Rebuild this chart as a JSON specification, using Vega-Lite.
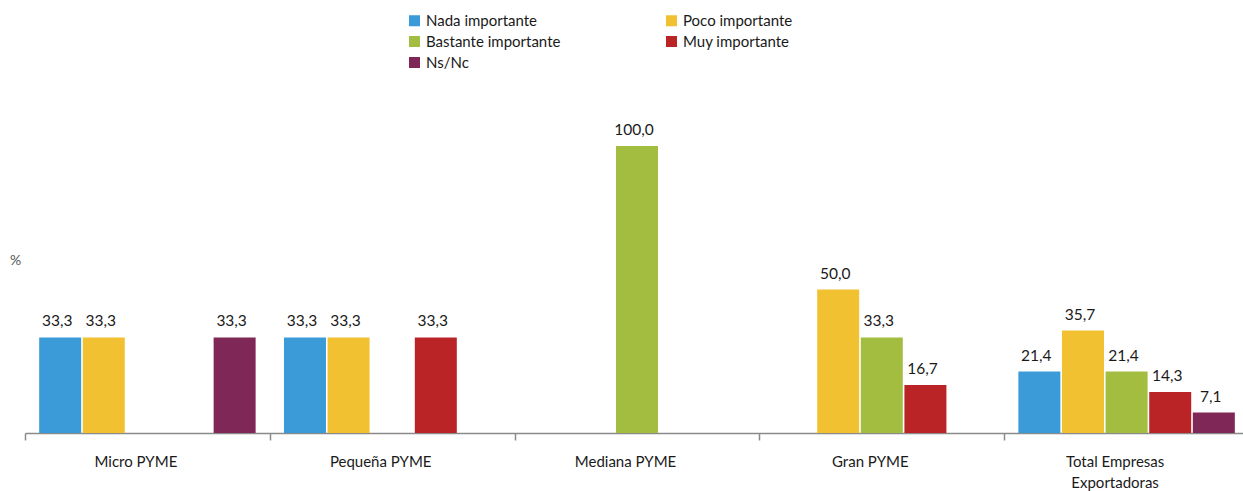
{
  "$schema": "https://vega.github.io/schema/vega-lite/v6.json",
  "autosize": {"type": "none"},
  "padding": {"left": 25, "top": 146, "right": 0, "bottom": 58},
  "width": 1224,
  "height": 287,
  "config": {
    "view": {"stroke": null},
    "font": "Lato",
    "locale": {"number": {"decimal": ",", "thousands": ".", "grouping": [3], "currency": ["", " €"]}}
  },
  "data": {
    "values": [
      {"grupo": "Micro PYME", "serie": "Nada importante", "valor": 33.3},
      {"grupo": "Micro PYME", "serie": "Poco importante", "valor": 33.3},
      {"grupo": "Micro PYME", "serie": "Ns/Nc", "valor": 33.3},
      {"grupo": "Pequeña PYME", "serie": "Nada importante", "valor": 33.3},
      {"grupo": "Pequeña PYME", "serie": "Poco importante", "valor": 33.3},
      {"grupo": "Pequeña PYME", "serie": "Muy importante", "valor": 33.3},
      {"grupo": "Mediana PYME", "serie": "Bastante importante", "valor": 100.0},
      {"grupo": "Gran PYME", "serie": "Poco importante", "valor": 50.0},
      {"grupo": "Gran PYME", "serie": "Bastante importante", "valor": 33.3},
      {"grupo": "Gran PYME", "serie": "Muy importante", "valor": 16.7},
      {"grupo": "Total Empresas Exportadoras", "serie": "Nada importante", "valor": 21.4},
      {"grupo": "Total Empresas Exportadoras", "serie": "Poco importante", "valor": 35.7},
      {"grupo": "Total Empresas Exportadoras", "serie": "Bastante importante", "valor": 21.4},
      {"grupo": "Total Empresas Exportadoras", "serie": "Muy importante", "valor": 14.3},
      {"grupo": "Total Empresas Exportadoras", "serie": "Ns/Nc", "valor": 7.1}
    ]
  },
  "encoding": {
    "x": {
      "field": "grupo",
      "type": "nominal",
      "sort": ["Micro PYME", "Pequeña PYME", "Mediana PYME", "Gran PYME", "Total Empresas Exportadoras"],
      "scale": {"paddingInner": 0, "paddingOuter": 0},
      "axis": {
        "title": null,
        "labelAngle": 0,
        "tickBand": "extent",
        "domainColor": "#8a8a8a",
        "domainWidth": 1.5,
        "tickColor": "#8a8a8a",
        "tickWidth": 1.5,
        "tickSize": 7,
        "labelPadding": 14,
        "labelOffset": -12,
        "labelFontSize": 15,
        "labelColor": "#1a1a1a",
        "labelLineHeight": 21,
        "labelBaseline": "top",
        "labelExpr": "datum.value == 'Total Empresas Exportadoras' ? ['Total Empresas', 'Exportadoras'] : datum.value"
      }
    },
    "xOffset": {
      "field": "serie",
      "type": "nominal",
      "scale": {
        "domain": ["Nada importante", "Poco importante", "Bastante importante", "Muy importante", "Ns/Nc"],
        "paddingInner": 0.037,
        "paddingOuter": 0.325
      }
    },
    "y": {
      "field": "valor",
      "type": "quantitative",
      "scale": {"domain": [0, 100], "nice": false},
      "axis": {
        "domain": false, "ticks": false, "labels": false, "grid": false,
        "title": "%", "titleAngle": 0, "titleX": -10, "titleY": 121,
        "titleAlign": "center", "titleFontSize": 14, "titleFontWeight": "normal", "titleColor": "#555555"
      }
    }
  },
  "layer": [
    {
      "mark": {"type": "bar"},
      "encoding": {
        "color": {
          "field": "serie",
          "type": "nominal",
          "scale": {
            "domain": ["Nada importante", "Poco importante", "Bastante importante", "Muy importante", "Ns/Nc"],
            "range": ["#3a9bd8", "#f2c132", "#a3bd40", "#bb2426", "#7f2857"]
          },
          "legend": {
            "title": null,
            "orient": "none",
            "direction": "horizontal",
            "legendX": 382,
            "legendY": -133,
            "columns": 2,
            "columnPadding": 103,
            "rowPadding": 5,
            "symbolType": "square",
            "symbolSize": 121,
            "symbolStrokeWidth": 0,
            "labelFontSize": 15,
            "labelColor": "#1a1a1a",
            "labelOffset": 4
          }
        }
      }
    },
    {
      "mark": {"type": "text", "baseline": "alphabetic", "dy": -11, "dx": -3, "fontSize": 15.5, "color": "#1a1a1a"},
      "encoding": {
        "text": {"field": "valor", "type": "quantitative", "format": ".1f"}
      }
    }
  ]
}
